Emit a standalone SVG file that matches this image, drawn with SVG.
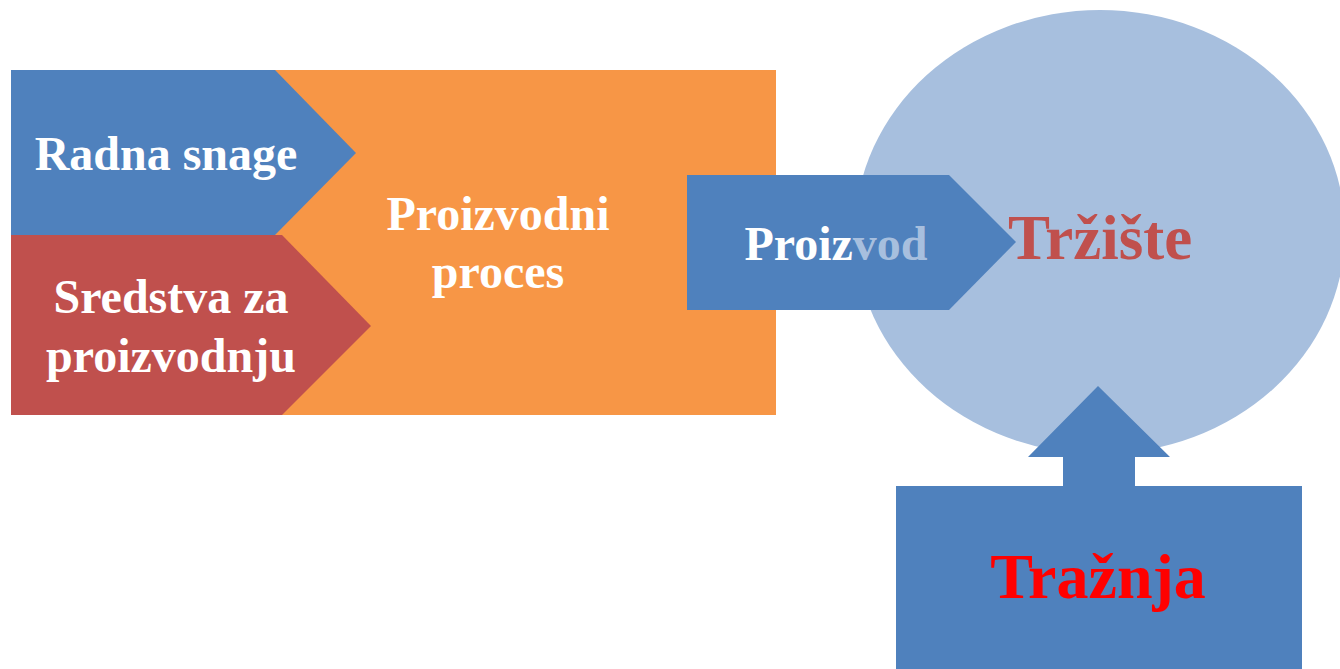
<svg xmlns="http://www.w3.org/2000/svg" width="1340" height="669" viewBox="0 0 1340 669">
<style>
.t{font-family:"Liberation Serif","Times New Roman",serif;font-weight:bold;text-anchor:middle}
.w{fill:#FFFFFF;font-size:48px}
.blue{fill:#4F81BD}
.red{fill:#C0504D}
.orange{fill:#F79646}
.light{fill:#A7BFDE}
</style>
<rect width="1340" height="669" fill="#FFFFFF"/>
<g id="proizvodni-proces">
<rect class="orange" x="220" y="70" width="556" height="345"/>
<text class="t w" x="498" y="230">Proizvodni</text>
<text class="t w" x="498" y="288">proces</text>
</g>
<g id="radna-snage">
<polygon class="blue" points="11,70 275,70 356,153 275,235 11,235"/>
<text class="t w" x="166" y="170">Radna snage</text>
</g>
<g id="sredstva">
<polygon class="red" points="11,235 282,235 371,326 282,415 11,415"/>
<text class="t w" x="171" y="313">Sredstva za</text>
<text class="t w" x="171" y="372">proizvodnju</text>
</g>
<g id="trziste">
<ellipse class="light" cx="1100" cy="232" rx="245" ry="222"/>
<text class="t" x="1100" y="259" font-size="63" fill="#C0504D">Tržište</text>
</g>
<g id="proizvod">
<polygon class="blue" points="687,175 949,175 1016,242 949,310 687,310"/>
<text class="t w" x="836" y="260">Proiz<tspan fill="#A7BFDE">vod</tspan></text>
</g>
<g id="traznja">
<rect class="blue" x="896" y="486" width="406" height="200"/>
<text class="t" x="1098" y="598" font-size="64" fill="#FF0000">Tražnja</text>
</g>
<g id="connectors">
<polygon class="blue" points="1098,386 1170,457 1135,457 1135,487 1063,487 1063,457 1028,457"/>
</g>
</svg>
